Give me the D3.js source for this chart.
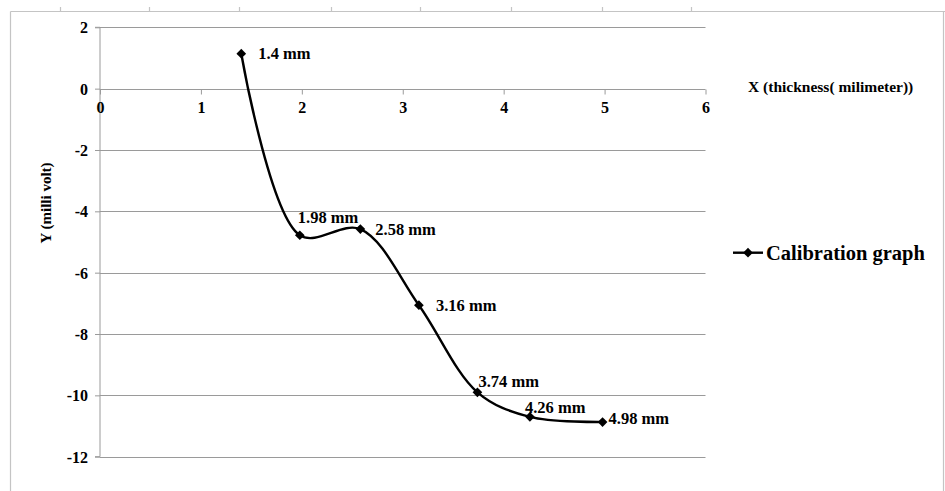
<!DOCTYPE html>
<html><head><meta charset="utf-8">
<script src="https://cdn.jsdelivr.net/npm/d3@7"></script>
<style>
html,body{margin:0;padding:0;background:#fff;}
</style></head>
<body>
<svg id="c" width="945" height="491"></svg>
<script>
const thickness = [1.4, 1.98, 2.58, 3.16, 3.74, 4.26, 4.98];
const voltage = [1.14, -4.78, -4.58, -7.06, -9.9, -10.7, -10.87];
const pointLabels = ["1.4 mm", "1.98 mm", "2.58 mm", "3.16 mm", "3.74 mm", "4.26 mm", "4.98 mm"];
const xTicks = [0, 1, 2, 3, 4, 5, 6];
const yTicks = [2, 0, -2, -4, -6, -8, -10, -12];
const seriesName = "Calibration graph";
const xTitle = "X (thickness( milimeter))";
const yTitle = "Y (milli volt)";

const FONT = "'Liberation Serif', Tinos, 'Times New Roman', 'DejaVu Serif', serif";
const svg = d3.select("#c");
const x = d3.scaleLinear().domain([0, 6]).range([100, 705.5]);
const y = d3.scaleLinear().domain([-12, 2]).range([456.7, 27.3]);

// outer frame
const frame = svg.append("g").attr("stroke", "#c4c4c4").attr("stroke-width", 1.2).attr("fill", "none");
frame.append("line").attr("x1", 10.5).attr("x2", 945).attr("y1", 11.5).attr("y2", 11.5);
frame.append("line").attr("x1", 10.5).attr("x2", 10.5).attr("y1", 11.5).attr("y2", 491);
frame.append("line").attr("x1", 943.5).attr("x2", 943.5).attr("y1", 11.5).attr("y2", 491);
[60, 149, 239, 331, 420, 511, 602, 691].forEach(px => {
  frame.append("line").attr("x1", px + 0.5).attr("x2", px + 0.5).attr("y1", 7).attr("y2", 11.5);
});

// horizontal gridlines
svg.append("g").selectAll("line").data(yTicks.filter(d => d !== 0)).join("line")
  .attr("x1", x(0)).attr("x2", x(6))
  .attr("y1", d => Math.round(y(d)) + 0.5).attr("y2", d => Math.round(y(d)) + 0.5)
  .attr("stroke", "#9a9a9a").attr("stroke-width", 1);

function styleText(sel, size) {
  return sel.attr("font-family", FONT).attr("font-weight", "bold").attr("font-size", size).attr("fill", "#000");
}

// y axis
const yAxis = d3.axisLeft(y).tickValues(yTicks).tickSize(5).tickFormat(d => String(d));
const gy = svg.append("g").attr("transform", `translate(${x(0)},0)`).call(yAxis)
  .attr("font-family", FONT);
gy.select(".domain").attr("stroke", "#9a9a9a").attr("d", `M-5,${y(2)}H0V${y(-12)}H-5`);
gy.selectAll(".tick line").attr("stroke", "#9a9a9a");
styleText(gy.selectAll(".tick text"), 16).attr("x", -12).attr("dy", "0.35em");

// x axis at y = 0
const xAxis = d3.axisBottom(x).tickValues(xTicks).tickSize(5).tickFormat(d => String(d));
const gx = svg.append("g").attr("transform", `translate(0,${Math.round(y(0)) + 0.5})`).call(xAxis)
  .attr("font-family", FONT);
gx.select(".domain").attr("stroke", "#9a9a9a").attr("d", `M${x(0)},0H${x(6)}`);
gx.selectAll(".tick line").attr("stroke", "#9a9a9a");
styleText(gx.selectAll(".tick text"), 16).attr("y", 18).attr("dy", "0.35em");

// axis titles
styleText(svg.append("text"), 15.5).attr("x", 748).attr("y", 87).attr("dy", "0.35em").text(xTitle);
styleText(svg.append("text"), 15).attr("transform", `translate(46,203) rotate(-90)`).attr("text-anchor", "middle")
  .attr("dy", "0.35em").text(yTitle);

// data
const data = thickness.map((t, i) => ({x: t, y: voltage[i], label: pointLabels[i]}));
const line = d3.line().x(d => x(d.x)).y(d => y(d.y)).curve(d3.curveCatmullRom.alpha(0.5));
svg.append("path").datum(data).attr("d", line).attr("fill", "none").attr("stroke", "#000").attr("stroke-width", 2.4);

const diamond = d3.symbol().type(d3.symbolDiamond2).size(60);
svg.append("g").selectAll("path").data(data).join("path")
  .attr("transform", d => `translate(${x(d.x)},${y(d.y)})`).attr("d", diamond).attr("fill", "#000");

// point labels (offsets are layout, not data)
const offsets = [[17, 0], [-2, -18], [15, 0], [17, 0], [1, -11], [-5, -10], [6, -4]];
styleText(svg.append("g").selectAll("text").data(data).join("text"), 16.5)
  .attr("x", (d, i) => x(d.x) + offsets[i][0]).attr("y", (d, i) => y(d.y) + offsets[i][1])
  .attr("dy", "0.35em").text(d => d.label);

// legend
svg.append("line").attr("x1", 733).attr("x2", 763).attr("y1", 252.7).attr("y2", 252.7)
  .attr("stroke", "#000").attr("stroke-width", 2.4);
svg.append("path").attr("transform", "translate(748,252.7)").attr("d", diamond).attr("fill", "#000");
styleText(svg.append("text"), 20.5).attr("x", 766).attr("y", 252.7).attr("dy", "0.35em").text(seriesName);
</script>
</body></html>
